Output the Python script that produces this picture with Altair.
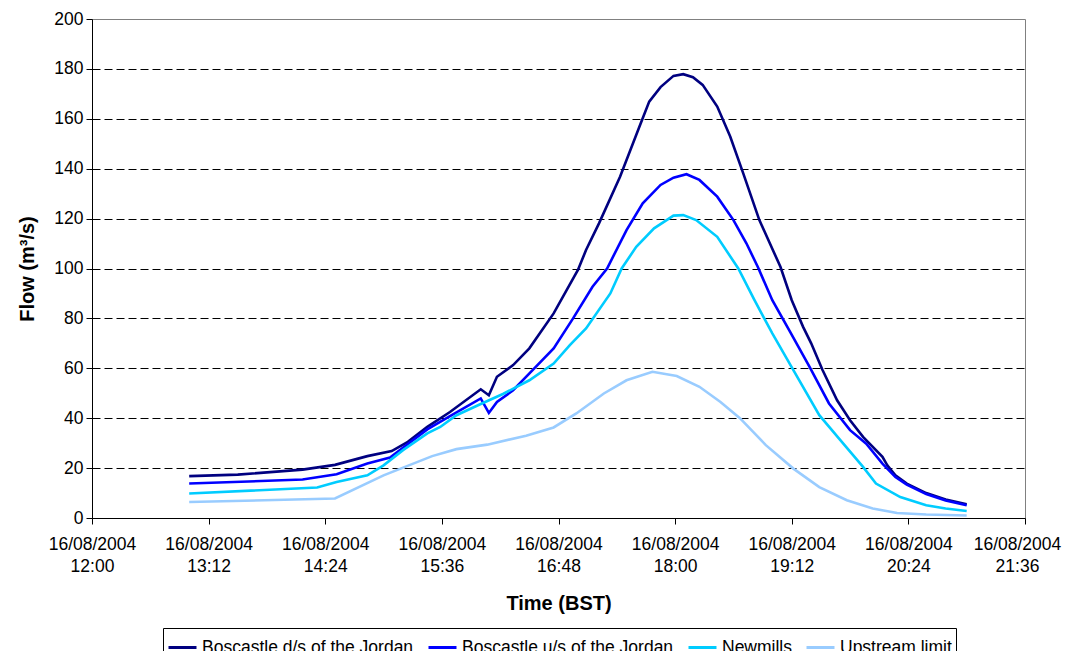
import altair as alt
import pandas as pd

series_names = [
    "Boscastle d/s of the Jordan",
    "Boscastle u/s of the Jordan",
    "Newmills",
    "Upstream limit",
]
series_colors = ["#000080", "#0000FF", "#00CCFF", "#99CCFF"]

ds_times = ["13:00", "13:30", "14:10", "14:30", "14:50", "15:05", "15:15", "15:27", "15:41",
            "16:00", "16:05", "16:10", "16:20", "16:30", "16:45", "17:00", "17:05", "17:13",
            "17:26", "17:38", "17:44", "17:51", "17:59", "18:05", "18:11", "18:17", "18:26",
            "18:34", "18:42", "18:52", "19:05", "19:12", "19:19", "19:24", "19:31", "19:40",
            "19:48", "19:56", "20:08", "20:11", "20:16", "20:23", "20:35", "20:47", "21:00"]
ds_flow = [16.8, 17.4, 19.4, 21.3, 24.8, 26.8, 30.5, 36.5, 42.5,
           51.6, 49.2, 56.6, 61.3, 68.0, 82.0, 99.4, 107.4, 118.1,
           136.8, 156.9, 166.9, 172.7, 177.2, 177.9, 176.7, 173.6, 164.9,
           152.9, 138.2, 119.4, 100.7, 87.3, 76.6, 70.0, 59.3, 47.2,
           39.2, 32.5, 24.5, 21.1, 17.1, 13.8, 10.0, 7.4, 5.5]

us_times = ["13:00", "14:10", "14:31", "14:50", "15:04", "15:27", "15:41", "16:00", "16:05",
            "16:10", "16:20", "16:32", "16:45", "16:57", "17:09", "17:18", "17:30", "17:40",
            "17:51", "17:59", "18:07", "18:15", "18:26", "18:36", "18:44", "18:51", "19:00",
            "19:11", "19:23", "19:35", "19:48", "19:58", "20:08", "20:16", "20:23", "20:35",
            "20:47", "21:00"]
us_flow = [13.8, 15.4, 17.5, 21.8, 24.2, 35.5, 40.8, 47.9, 42.1,
           46.5, 51.2, 59.3, 68.0, 80.0, 92.7, 100.0, 115.4, 126.1,
           133.5, 136.4, 137.8, 135.5, 128.8, 119.4, 110.1, 100.7, 87.3,
           74.6, 60.6, 45.9, 35.2, 29.8, 21.8, 16.4, 13.4, 9.6,
           7.0, 5.1]

nm_times = ["13:00", "14:19", "14:31", "14:50", "15:00", "15:12", "15:27", "15:35", "15:45",
            "16:00", "16:14", "16:30", "16:45", "16:55", "17:05", "17:20", "17:27", "17:36",
            "17:47", "17:59", "18:05", "18:13", "18:26", "18:39", "18:49", "19:00", "19:13",
            "19:29", "19:42", "19:56", "20:04", "20:19", "20:35", "20:47", "21:00"]
nm_flow = [9.8, 12.2, 14.4, 17.1, 21.1, 27.2, 33.9, 36.5, 41.2,
           45.7, 49.8, 55.2, 61.9, 69.3, 76.0, 90.0, 100.0, 108.7,
           116.1, 121.2, 121.4, 119.4, 112.7, 100.0, 87.3, 74.0, 59.3,
           41.2, 31.2, 20.5, 13.8, 8.4, 5.1, 3.8, 2.8]

ul_times = ["13:00", "14:30", "15:00", "15:30", "15:45", "16:04", "16:28", "16:45", "16:59",
            "17:16", "17:30", "17:46", "18:01", "18:15", "18:28", "18:40", "18:56", "19:13",
            "19:29", "19:46", "20:02", "20:17", "20:35", "21:00"]
ul_flow = [6.4, 7.8, 17.1, 24.8, 27.6, 29.4, 33.0, 36.3, 41.9,
           49.9, 55.2, 58.6, 56.9, 52.6, 46.5, 40.0, 29.2, 19.8,
           12.4, 7.1, 3.8, 2.0, 1.4, 1.0]

tick_times = ["12:00", "13:12", "14:24", "15:36", "16:48", "18:00", "19:12", "20:24", "21:36"]
y_ticks = [0, 20, 40, 60, 80, 100, 120, 140, 160, 180, 200]

rows = []
for name, times, flows in zip(series_names,
                              [ds_times, us_times, nm_times, ul_times],
                              [ds_flow, us_flow, nm_flow, ul_flow]):
    for t, f in zip(times, flows):
        rows.append({"series": name, "time": "2004-08-16T" + t + ":00Z", "flow": f})
df = pd.DataFrame(rows)


def dt(hhmm):
    h, m = hhmm.split(":")
    return alt.DateTime(year=2004, month=8, date=16, hours=int(h), minutes=int(m), utc=True)


FONT = "Liberation Sans"

chart = alt.Chart(df).mark_line(strokeWidth=2.6, interpolate="linear").encode(
    x=alt.X(
        "time:T",
        scale=alt.Scale(type="utc", domain=[dt(tick_times[0]), dt(tick_times[-1])]),
        axis=alt.Axis(
            values=[dt(t) for t in tick_times],
            labelExpr="[utcFormat(datum.value, '%d/%m/%Y'), utcFormat(datum.value, '%H:%M')]",
            title="Time (BST)",
            grid=False,
            labelLineHeight=22,
            labelPadding=11,
            labelOverlap=False,
            labelFlush=False,
            labelBound=False,
            labelAlign="center",
            labelOffset={"condition": {"test": "datum.index >= 1", "value": -8}, "value": 0},
            titlePadding=19,
        ),
    ),
    y=alt.Y(
        "flow:Q",
        scale=alt.Scale(domain=[0, 200]),
        axis=alt.Axis(
            values=y_ticks,
            title="Flow (m³/s)",
            grid=True,
            gridColor="black",
            gridDash=[8, 4],
            gridWidth=1,
            gridOpacity={"condition": {"test": "datum.value <= 0 || datum.value >= 200", "value": 0}, "value": 1},
            labelPadding=3,
            labelOverlap=False,
            titlePadding=16,
        ),
    ),
    color=alt.Color(
        "series:N",
        scale=alt.Scale(domain=series_names, range=series_colors),
        sort=series_names,
        legend=alt.Legend(
            title=None,
            orient="none",
            legendX=71,
            legendY=609,
            direction="horizontal",
            symbolType="stroke",
            symbolSize=784,
            symbolStrokeWidth=3,
            labelOffset=4,
            labelLimit=400,
            columnPadding=8,
            padding=4,
            strokeColor="black",
            fillColor="white",
        ),
    ),
    order=alt.Order("series:N"),
).properties(
    width=933,
    height=499,
    autosize=alt.AutoSizeParams(type="none"),
    padding={"left": 84, "top": 11, "right": 37, "bottom": 133},
).configure_view(
    stroke="#808080",
    strokeWidth=1,
).configure_axis(
    labelFont=FONT,
    titleFont=FONT,
    labelFontSize=17.5,
    titleFontSize=20,
    titleFontWeight="bold",
    labelColor="black",
    titleColor="black",
    domainColor="black",
    tickColor="black",
    tickSize=6,
    domainWidth=1,
).configure_legend(
    labelFont=FONT,
    labelFontSize=17.5,
    labelColor="black",
)

chart.save("out.html", embed_options={"renderer": "svg", "actions": False})
